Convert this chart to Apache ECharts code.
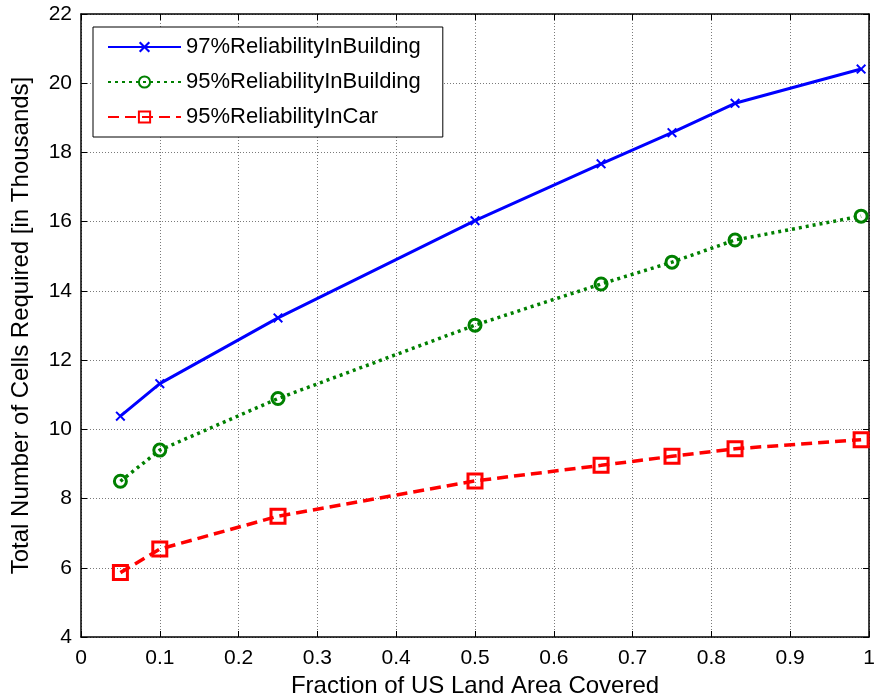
<!DOCTYPE html>
<html>
<head>
<meta charset="utf-8">
<script src="https://cdn.jsdelivr.net/npm/echarts@6/dist/echarts.min.js"></script>
<style>html,body{margin:0;padding:0;background:#fff}#c{width:875px;height:700px}</style>
</head>
<body>
<div id="c"></div>
<script>
var xValues = [0.05, 0.1, 0.25, 0.5, 0.66, 0.75, 0.83, 0.99];
var rel97Building = [10.38, 11.32, 13.22, 16.03, 17.67, 18.57, 19.42, 20.41];
var rel95Building = [8.50, 9.40, 10.89, 13.01, 14.20, 14.83, 15.47, 16.16];
var rel95Car = [5.86, 6.54, 7.49, 8.51, 8.96, 9.22, 9.44, 9.70];
var seriesNames = ['97%ReliabilityInBuilding', '95%ReliabilityInBuilding', '95%ReliabilityInCar'];
var xTickLabels = ['0', '0.1', '0.2', '0.3', '0.4', '0.5', '0.6', '0.7', '0.8', '0.9', '1'];

function pairs(xs, ys) { return xs.map(function (x, i) { return [x, ys[i]]; }); }

var FONT = 'Liberation Sans, Arial, sans-serif';
var crossPath = 'path://M0,1.4L1.4,0L5,3.6L8.6,0L10,1.4L6.4,5L10,8.6L8.6,10L5,6.4L1.4,10L0,8.6L3.6,5Z';

var chart = echarts.init(document.getElementById('c'), null, {renderer: 'canvas'});
var gridLine = {show: true, lineStyle: {color: '#7a7a7a', type: [1, 2], width: 1}};
chart.setOption({
  animation: false,
  backgroundColor: '#fff',
  textStyle: {fontFamily: FONT},
  grid: {left: 81, right: 6, top: 14, bottom: 63, containLabel: false, outerBoundsMode: 'none'},
  legend: {
    left: 93, top: 27, orient: 'vertical',
    data: seriesNames,
    itemWidth: 73, itemHeight: 14, itemGap: 13,
    padding: [9, 22, 9, 14],
    borderColor: '#000', borderWidth: 1, backgroundColor: '#fff',
    textStyle: {fontFamily: FONT, fontSize: 22, color: '#000'}
  },
  xAxis: [{
    type: 'value', min: 0, max: 1, interval: 0.1,
    name: 'Fraction of US Land Area Covered', nameLocation: 'middle', nameGap: 32,
    nameTextStyle: {fontFamily: FONT, fontSize: 24, color: '#000'},
    axisLine: {show: true, onZero: false, lineStyle: {color: '#000', width: 1.5}},
    axisTick: {show: true, inside: true, length: 6, lineStyle: {color: '#000'}},
    axisLabel: {fontFamily: FONT, fontSize: 21, color: '#000', margin: 11,
      formatter: function (v) { return xTickLabels[Math.round(v * 10)]; }},
    splitLine: gridLine
  }, {
    type: 'value', min: 0, max: 1, interval: 0.1, position: 'top',
    axisLine: {show: true, onZero: false, lineStyle: {color: '#000', width: 1.5}},
    axisTick: {show: true, inside: true, length: 6, lineStyle: {color: '#000'}},
    axisLabel: {show: false}, splitLine: {show: false}
  }],
  yAxis: [{
    type: 'value', min: 4, max: 22, interval: 2,
    name: 'Total Number of Cells Required [in Thousands]', nameLocation: 'middle', nameGap: 48,
    nameTextStyle: {fontFamily: FONT, fontSize: 24, color: '#000'},
    axisLine: {show: true, onZero: false, lineStyle: {color: '#000', width: 1.5}},
    axisTick: {show: true, inside: true, length: 6, lineStyle: {color: '#000'}},
    axisLabel: {fontFamily: FONT, fontSize: 21, color: '#000', margin: 9},
    splitLine: gridLine
  }, {
    type: 'value', min: 4, max: 22, interval: 2, position: 'right',
    axisLine: {show: true, onZero: false, lineStyle: {color: '#000', width: 1.5}},
    axisTick: {show: true, inside: true, length: 6, lineStyle: {color: '#000'}},
    axisLabel: {show: false}, splitLine: {show: false}
  }],
  series: [{
    name: seriesNames[0], type: 'line', data: pairs(xValues, rel97Building),
    symbol: crossPath, symbolSize: 10, showAllSymbol: true,
    lineStyle: {color: '#0000ff', width: 3, type: 'solid'},
    itemStyle: {color: '#0000ff'}
  }, {
    name: seriesNames[1], type: 'line', data: pairs(xValues, rel95Building),
    symbol: 'circle', symbolSize: 12,
    lineStyle: {color: '#008000', width: 3.5, type: [3, 4]},
    itemStyle: {color: 'rgba(0,0,0,0)', borderColor: '#008000', borderWidth: 3}
  }, {
    name: seriesNames[2], type: 'line', data: pairs(xValues, rel95Car),
    symbol: 'rect', symbolSize: 14,
    lineStyle: {color: '#ff0000', width: 3.5, type: [11, 6]},
    itemStyle: {color: 'rgba(0,0,0,0)', borderColor: '#ff0000', borderWidth: 3}
  }]
});
</script>
</body>
</html>
